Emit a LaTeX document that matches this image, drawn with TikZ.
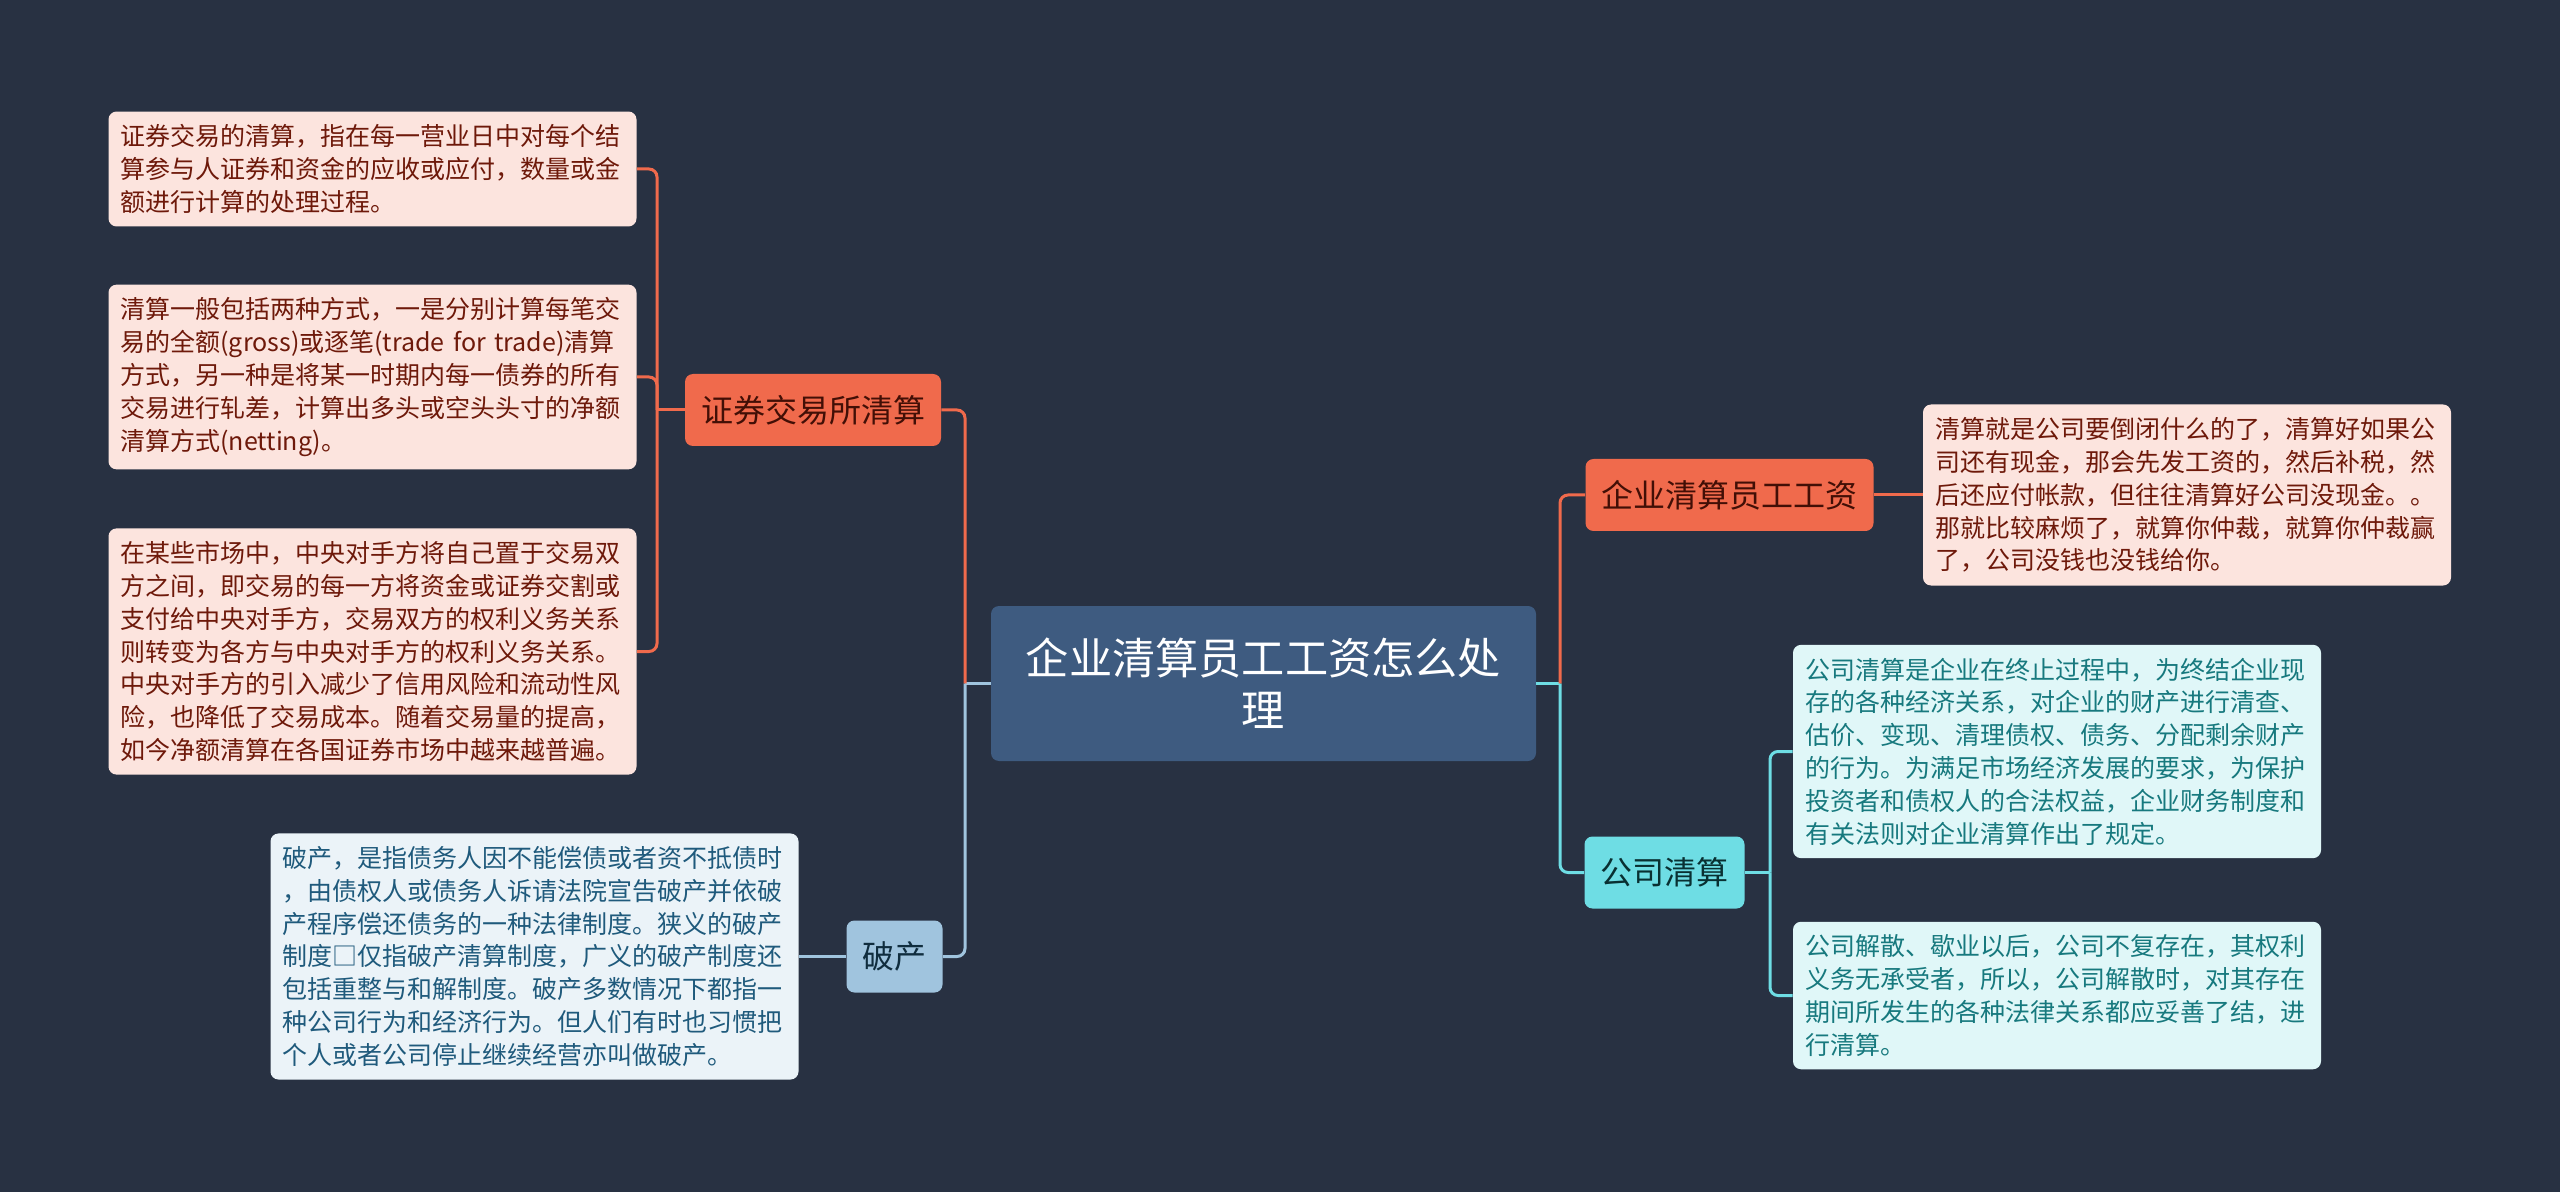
\documentclass[tikz,border=0pt]{standalone}
\usepackage{fontspec}
\setmainfont{Noto Sans CJK SC}
\usepackage{tikz}

\definecolor{bgcol}{HTML}{283142}
\definecolor{rootcol}{HTML}{3E5B80}
\definecolor{orcol}{HTML}{F06A4C}
\definecolor{orleaf}{HTML}{FCE4DE}
\definecolor{ortext}{HTML}{6E190A}
\definecolor{pccol}{HTML}{A0C4DE}
\definecolor{pcleaf}{HTML}{EBF3F8}
\definecolor{pctext}{HTML}{1F5A7C}
\definecolor{cycol}{HTML}{6EDDE4}
\definecolor{cyleaf}{HTML}{E0F7F8}
\definecolor{cytext}{HTML}{17797E}

\begin{document}
\begin{tikzpicture}[x=0.5pt, y=-0.5pt,
    rootbox/.style={fill=rootcol, rounded corners=4pt, text=white, align=center,
      minimum width=272.5pt, minimum height=77.5pt,
      font=\fontsize{21.6pt}{26pt}\selectfont},
    topic/.style={rounded corners=4pt, minimum height=36pt, inner xsep=8pt,
      font=\fontsize{16pt}{19pt}\selectfont},
    leaf/.style={rounded corners=4pt, text width=252pt, inner xsep=6pt, inner ysep=6.5pt,
      align=left, font=\fontsize{12.5pt}{16.4pt}\selectfont},
    link/.style={line width=1.5pt, rounded corners=4pt}
  ]
        % Background and page size
        \fill[bgcol] (0,0) rectangle (2560,1192);
        \useasboundingbox (0,0) rectangle (2560,1192);

        % Central topic
        \node[rootbox] (root) at (1263.5,683.5) {企业清算员工工资怎么处\\理};

        % Main branches
        \node[topic, fill=orcol, text=ortext!60!black] (zq) at (813,410) {证券交易所清算};
        \node[topic, fill=pccol, text=pctext!50!black] (pc) at (894.5,956.5) {破产};
        \node[topic, fill=orcol, text=ortext!60!black] (gz) at (1729.5,495) {企业清算员工工资};
        \node[topic, fill=cycol, text=cytext!40!black] (gs) at (1664.5,872.5) {公司清算};

        % Leaves of 证券交易所清算
        \node[leaf, fill=orleaf, text=ortext] (zq1) at (372.5,169) {%
            证券交易的清算，指在每一营业日中对每个结\\
            算参与人证券和资金的应收或应付，数量或金\\
            额进行计算的处理过程。};
        \node[leaf, fill=orleaf, text=ortext] (zq2) at (372.5,377) {%
            清算一般包括两种方式，一是分别计算每笔交\\
            易的全额(gross)或逐笔(trade~for~trade)清算\\
            方式，另一种是将某一时期内每一债券的所有\\
            交易进行轧差，计算出多头或空头头寸的净额\\
            清算方式(netting)。};
        \node[leaf, fill=orleaf, text=ortext] (zq3) at (372.5,651.5) {%
            在某些市场中，中央对手方将自己置于交易双\\
            方之间，即交易的每一方将资金或证券交割或\\
            支付给中央对手方，交易双方的权利义务关系\\
            则转变为各方与中央对手方的权利义务关系。\\
            中央对手方的引入减少了信用风险和流动性风\\
            险，也降低了交易成本。随着交易量的提高，\\
            如今净额清算在各国证券市场中越来越普遍。};

        % Leaf of 破产
        \node[leaf, fill=pcleaf, text=pctext] (pc1) at (534.5,956.5) {%
            破产，是指债务人因不能偿债或者资不抵债时\\
            ，由债权人或债务人诉请法院宣告破产并依破\\
            产程序偿还债务的一种法律制度。狭义的破产\\
            制度□仅指破产清算制度，广义的破产制度还\\
            包括重整与和解制度。破产多数情况下都指一\\
            种公司行为和经济行为。但人们有时也习惯把\\
            个人或者公司停止继续经营亦叫做破产。};

        % Leaf of 企业清算员工工资
        \node[leaf, fill=orleaf, text=ortext] (gz1) at (2187,495) {%
            清算就是公司要倒闭什么的了，清算好如果公\\
            司还有现金，那会先发工资的，然后补税，然\\
            后还应付帐款，但往往清算好公司没现金。。\\
            那就比较麻烦了，就算你仲裁，就算你仲裁赢\\
            了，公司没钱也没钱给你。};

        % Leaves of 公司清算
        \node[leaf, fill=cyleaf, text=cytext] (gs1) at (2057,751.5) {%
            公司清算是企业在终止过程中，为终结企业现\\
            存的各种经济关系，对企业的财产进行清查、\\
            估价、变现、清理债权、债务、分配剩余财产\\
            的行为。为满足市场经济发展的要求，为保护\\
            投资者和债权人的合法权益，企业财务制度和\\
            有关法则对企业清算作出了规定。};
        \node[leaf, fill=cyleaf, text=cytext] (gs2) at (2057,995.5) {%
            公司解散、歇业以后，公司不复存在，其权利\\
            义务无承受者，所以，公司解散时，对其存在\\
            期间所发生的各种法律关系都应妥善了结，进\\
            行清算。};

        % Junction points
        \coordinate (lj) at (965,683.5);
        \coordinate (rj) at (1560,683.5);
        \coordinate (zqj) at (657,410);
        \coordinate (gsj) at (1770,872.5);

        % Connectors, left side
        \draw[link, pccol] (root.west) -- (lj);
        \draw[link, orcol] (lj) |- (zq.east);
        \draw[link, pccol] (lj) |- (pc.east);
        \draw[link, orcol] (zq.west) -- (zqj);
        \draw[link, orcol] (zqj) |- (zq1.east);
        \draw[link, orcol] (zqj) |- (zq2.east);
        \draw[link, orcol] (zqj) |- (zq3.east);
        \draw[link, pccol] (pc.west) -- (pc1.east);

        % Connectors, right side
        \draw[link, cycol] (root.east) -- (rj);
        \draw[link, orcol] (rj) |- (gz.west);
        \draw[link, cycol] (rj) |- (gs.west);
        \draw[link, orcol] (gz.east) -- (gz1.west);
        \draw[link, cycol] (gs.east) -- (gsj);
        \draw[link, cycol] (gsj) |- (gs1.west);
        \draw[link, cycol] (gsj) |- (gs2.west);
\end{tikzpicture}
\end{document}
